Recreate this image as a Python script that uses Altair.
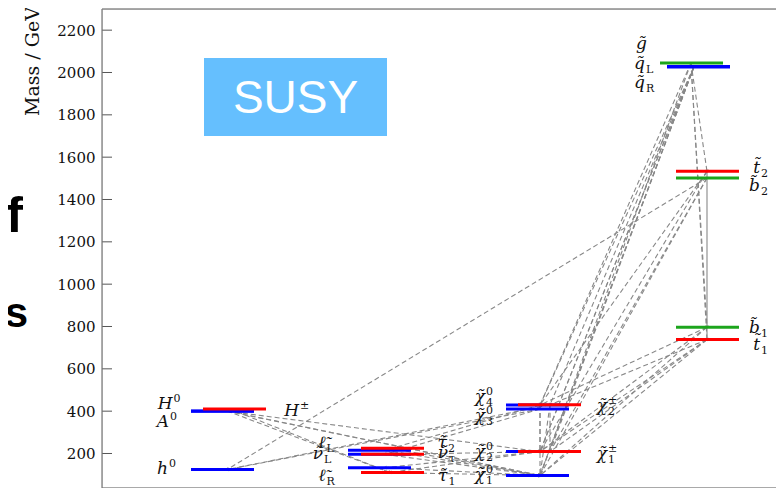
import math
import altair as alt
import pandas as pd

# ---------------- data ----------------
level_names = ["A0", "H0", "Hpm", "h0",
               "lL", "nuL", "lR", "tau2", "nutau", "tau1",
               "chi4", "chi3", "chi2", "chi1", "chipm2", "chipm1",
               "gluino", "qL", "qR", "t2", "b2", "b1", "t1"]
level_masses = [400, 401, 410, 124,
                215, 196, 133, 225, 196, 110,
                429, 410, 209, 96, 430, 209,
                2045, 2028, 2026, 1533, 1502, 797, 738]
level_kind = ["blue", "blue", "red", "blue",
              "blue", "blue", "blue", "red", "red", "red",
              "blue", "blue", "blue", "blue", "red", "red",
              "green", "blue", "blue", "red", "green", "green", "red"]
level_column = ["higgs_n", "higgs_n", "higgs_c", "higgs_n",
                "slep_n", "slep_n", "slep_n", "slep_c", "slep_c", "slep_c",
                "chi_n", "chi_n", "chi_n", "chi_n", "chi_c", "chi_c",
                "gluino", "squark", "squark", "stop", "stop", "stop", "stop"]

# decays: (parent, child)
decays_dashed = [
    ("qL", "chi4"), ("qL", "chi2"), ("qL", "chi1"), ("qR", "chi1"), ("qR", "chi2"),
    ("qL", "chipm1"), ("qL", "chipm2"), ("gluino", "chi4"), ("gluino", "chi1"),
    ("gluino", "t2"), ("gluino", "t1"), ("gluino", "b1"),
    ("b2", "h0"), ("t2", "chi4"), ("t2", "chi2"), ("b2", "chi1"), ("b2", "chipm1"),
    ("t1", "chi1"), ("t1", "chi2"), ("t1", "chipm1"), ("b1", "chi4"), ("b1", "chi2"),
    ("b1", "chi1"), ("t1", "chipm2"),
    ("chi4", "chi2"), ("chi4", "chi1"), ("chipm2", "chi1"), ("chipm2", "chipm1"),
    ("chi3", "h0"), ("chipm2", "h0"), ("chi4", "lL"), ("chi3", "nuL"),
    ("chi2", "lR"), ("chi2", "tau1"), ("chipm1", "nutau"),
    ("lL", "chi1"), ("nuL", "chi1"), ("lR", "chi1"), ("tau1", "chi1"), ("tau2", "chi1"),
    ("H0", "chi1"), ("A0", "chi1"), ("H0", "tau1"), ("A0", "chi2"), ("Hpm", "tau1"),
]
decays_solid = [("t2", "t1")]

ticks = [0, 200, 400, 600, 800, 1000, 1200, 1400, 1600, 1800, 2000, 2200]

label_base = ["H", "A", "h", "H",
              "\u2113\u0303", "\u03bd\u0303", "\u2113\u0303", "\u03c4\u0303", "\u03bd\u0303", "\u03c4\u0303",
              "\u03c7\u0303", "\u03c7\u0303", "\u03c7\u0303", "\u03c7\u0303", "\u03c7\u0303", "\u03c7\u0303",
              "g\u0303", "q\u0303", "q\u0303", "t\u0303", "b\u0303", "b\u0303", "t\u0303"]
label_sup = ["0", "0", "0", "\u00b1",
             "", "", "", "", "", "",
             "0", "0", "0", "0", "\u00b1", "\u00b1",
             "", "", "", "", "", "", ""]
label_sub = ["", "", "", "",
             "L", "L", "R", "2", "\u03c4", "1",
             "4", "3", "2", "1", "2", "1",
             "", "L", "R", "2", "2", "1", "1"]

# ---------------- layout ----------------
W, H = 674, 479
Y_MIN, Y_MAX = 37, 2300   # the picture is cut just above the 0 GeV line
col_start = {"higgs_n": 89, "higgs_c": 101, "slep_n": 246, "slep_c": 259,
             "chi_n": 404, "chi_c": 416, "gluino": 558, "squark": 565, "stop": 574}
LEVEL_W = 63
anchor_x = {"higgs_n": 125, "higgs_c": 128, "slep_n": 283, "slep_c": 288,
            "chi_n": 438, "chi_c": 448, "gluino": 589, "squark": 592, "stop": 605}
label_x = [70.5, 67, 66, 197,
           223.5, 221, 223.5, 345, 346, 345.5,
           383, 383, 383, 383, 505, 505,
           545, 543, 543, 658, 658, 658, 658]
label_y = [412, 327, 104, 379,
           227, 175, 72, 227, 180, 68,
           445, 355, 185, 76, 402, 175,
           2111, 2016, 1926, 1524, 1439, 767, 691]
palette = {"blue": "#0000ff", "red": "#ff0000", "green": "#1ca51c"}
SERIF = "DejaVu Serif"

# ---------------- tables ----------------
levels = pd.DataFrame({"name": level_names, "mass": level_masses,
                       "kind": level_kind, "col": level_column})
levels["x1"] = levels["col"].map(col_start)
levels["x2"] = levels["x1"] + LEVEL_W
levels["color"] = levels["kind"].map(palette)
levels["order"] = levels["kind"].map({"blue": 0, "green": 1, "red": 2})
levels = levels.sort_values("order", kind="stable")
lv = levels.set_index("name")


def seg_table(pairs):
    rows = []
    for p, c in pairs:
        x1, y1 = anchor_x[lv.loc[p, "col"]], lv.loc[p, "mass"]
        x2, y2 = anchor_x[lv.loc[c, "col"]], lv.loc[c, "mass"]
        dxp = x2 - x1
        dyp = -(y2 - y1) * H / (Y_MAX - Y_MIN)
        ang = math.degrees(math.atan2(dxp, -dyp)) % 360
        rows.append({"x1": x1, "y1": y1, "x2": x2, "y2": y2, "ang": ang})
    return pd.DataFrame(rows)


dashed = seg_table(decays_dashed)
solid = seg_table(decays_solid)
labels = pd.DataFrame({"base": label_base, "sup": label_sup, "sub": label_sub,
                       "x": label_x, "y": label_y})

xs = alt.Scale(domain=[0, W], nice=False, zero=False)
ys = alt.Scale(domain=[Y_MIN, Y_MAX], nice=False, zero=False)

yaxis = alt.Axis(values=ticks, format="d", title="Mass / GeV", grid=False,
                 ticks=False, tickSize=0, domain=False,
                 labelFont=SERIF, labelFontSize=15, labelColor="#111",
                 labelPadding=7,
                 titleFont=SERIF, titleFontSize=19, titleFontWeight="normal",
                 titleColor="#111", titleAngle=-90, titleX=-64, titleY=52,
                 titleAlign="center", titleBaseline="alphabetic")


def X(field):
    return alt.X(field, scale=xs, axis=None)


def Y(field):
    return alt.Y(field, scale=ys, axis=yaxis)


one = pd.DataFrame({"k": [0]})

frame_top = alt.Chart(one).mark_rule(color="#8c8c8c", strokeWidth=1.6).encode(
    x=alt.value(0), x2=alt.value(W), y=alt.value(0))
frame_bot = alt.Chart(one).mark_rule(color="#8c8c8c", strokeWidth=1.6).encode(
    x=alt.value(0), x2=alt.value(W), y=alt.value(H))
frame_left = alt.Chart(one).mark_rule(color="#777777", strokeWidth=1.2).encode(
    x=alt.value(0), y=alt.value(0), y2=alt.value(H))

tick_marks = alt.Chart(pd.DataFrame({"t": ticks[1:]})).mark_rule(
    color="#555555", strokeWidth=1).encode(
    y=Y("t:Q"), x=alt.value(0), x2=alt.value(10))

dash_lines = alt.Chart(dashed).mark_rule(
    color="#888888", strokeWidth=1.1, strokeDash=[5, 3]).encode(
    x=X("x1:Q"), x2="x2:Q", y=Y("y1:Q"), y2="y2:Q")
dash_heads = alt.Chart(dashed).mark_point(
    shape="triangle-up", filled=True, size=16, color="#888888").encode(
    x=X("x2:Q"), y=Y("y2:Q"), angle=alt.Angle("ang:Q", scale=None))

solid_lines = alt.Chart(solid).mark_rule(color="#888888", strokeWidth=1.1).encode(
    x=X("x1:Q"), x2="x2:Q", y=Y("y1:Q"), y2="y2:Q")
solid_heads = alt.Chart(solid).mark_point(
    shape="triangle-up", filled=True, size=16, color="#888888").encode(
    x=X("x2:Q"), y=Y("y2:Q"), angle=alt.Angle("ang:Q", scale=None))

level_marks = alt.Chart(levels).mark_rule(strokeWidth=3).encode(
    x=X("x1:Q"), x2="x2:Q", y=Y("mass:Q"),
    color=alt.Color("color:N", scale=None))

base_text = alt.Chart(labels).mark_text(
    align="right", baseline="alphabetic", font=SERIF, fontStyle="italic",
    fontSize=17, color="#111").encode(x=X("x:Q"), y=Y("y:Q"), text="base:N")
sup_text = alt.Chart(labels).mark_text(
    align="left", baseline="alphabetic", font=SERIF, fontSize=11,
    color="#111", dx=1, dy=-7).encode(x=X("x:Q"), y=Y("y:Q"), text="sup:N")
sub_text = alt.Chart(labels).mark_text(
    align="left", baseline="alphabetic", font=SERIF, fontSize=11,
    color="#111", dx=1, dy=4).encode(x=X("x:Q"), y=Y("y:Q"), text="sub:N")

susy_box = alt.Chart(one).mark_rect(color="#65bffe").encode(
    x=alt.value(102), x2=alt.value(285), y=alt.value(49), y2=alt.value(127))
susy_text = alt.Chart(pd.DataFrame({"t": ["SUSY"]})).mark_text(
    font="Liberation Sans", fontSize=46, color="white", align="center",
    baseline="alphabetic").encode(x=alt.value(193.5), y=alt.value(104), text="t:N")

slide_f = alt.Chart(pd.DataFrame({"t": ["f"]})).mark_text(
    font="Liberation Sans", fontWeight="bold", fontSize=50, color="black",
    align="right", baseline="alphabetic").encode(
    x=alt.value(-79), y=alt.value(223), text="t:N")
slide_s = alt.Chart(pd.DataFrame({"t": ["s"]})).mark_text(
    font="Liberation Sans", fontWeight="bold", fontSize=42, color="black",
    align="right", baseline="alphabetic").encode(
    x=alt.value(-74), y=alt.value(318), text="t:N")

chart = alt.layer(
    tick_marks, frame_top, frame_bot, frame_left,
    dash_lines, dash_heads, solid_lines, solid_heads,
    level_marks, base_text, sup_text, sub_text,
    susy_box, susy_text, slide_f, slide_s,
).properties(
    width=W, height=H,
    padding={"left": 94, "top": 1, "right": 0, "bottom": 0},
    autosize=alt.AutoSizeParams(type="none"),
).configure_view(stroke=None).configure(background="white")

chart.save("out.html", embed_options={"renderer": "svg", "actions": False})
